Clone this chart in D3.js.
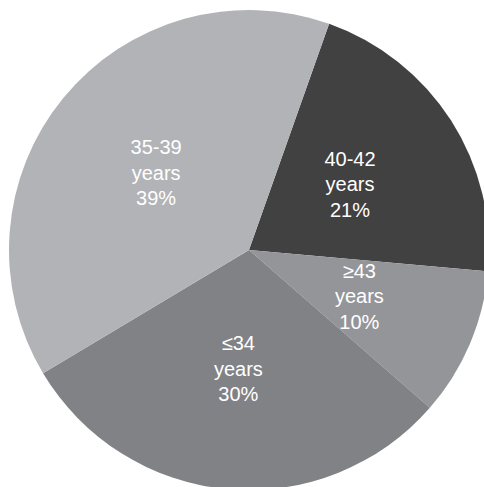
<!DOCTYPE html>
<html>
<head>
<meta charset="utf-8">
<script src="https://cdn.jsdelivr.net/npm/d3@7"></script>
<style>
  html, body { margin: 0; padding: 0; background: #ffffff; }
  svg { display: block; }
</style>
</head>
<body>
<svg id="chart" width="484" height="487"></svg>
<script>
const categories = ["40-42", "≥43", "≤34", "35-39"];
const unitLabel = "years";
const values = [21, 10, 30, 39];
const colors = ["#414141", "#949599", "#818286", "#b2b3b7"];

const data = categories.map((c, i) => ({ cat: c, value: values[i], color: colors[i] }));

const svg = d3.select("#chart");
const cx = 249, cy = 250, R = 240;
const startDeg = 19.5;

const pie = d3.pie()
  .sort(null)
  .value(d => d.value)
  .startAngle(startDeg * Math.PI / 180)
  .endAngle(startDeg * Math.PI / 180 + 2 * Math.PI);

const arc = d3.arc().innerRadius(0).outerRadius(R);

const g = svg.append("g").attr("transform", `translate(${cx},${cy})`);
const arcs = pie(data);

g.selectAll("path.slice")
  .data(arcs)
  .join("path")
  .attr("class", "slice")
  .attr("d", arc)
  .attr("fill", d => d.data.color);

const labels = g.selectAll("text.lbl")
  .data(arcs)
  .join("text")
  .attr("class", "lbl")
  .attr("text-anchor", "middle")
  .attr("font-family", "'Liberation Sans', Arial, sans-serif")
  .attr("font-size", 20)
  .attr("fill", "#ffffff")
  .attr("transform", d => {
    const [x, y] = arc.centroid(d);
    return `translate(${x},${y + 6})`;
  });

labels.each(function(d) {
  const t = d3.select(this);
  const lines = [d.data.cat, unitLabel, d.data.value + "%"];
  lines.forEach((ln, i) => {
    t.append("tspan").attr("x", 0).attr("y", (i - 1) * 25.5).text(ln);
  });
});
</script>
</body>
</html>
